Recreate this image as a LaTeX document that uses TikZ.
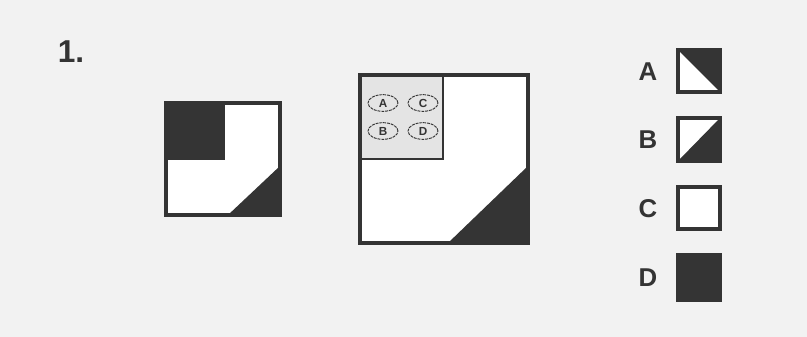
\documentclass[tikz,border=0pt]{standalone}
\usepackage{fontspec}
\setmainfont{Liberation Sans}
\usetikzlibrary{positioning,shapes.geometric}
\definecolor{paper}{RGB}{242,242,242}
\definecolor{ink}{RGB}{52,52,52}
\definecolor{panel}{RGB}{228,228,228}
\tikzset{
  tile/.style={draw=ink,line width=2.9pt,fill=white},
  dark/.style={fill=ink},
  key/.style={font=\fontsize{22}{26}\selectfont\bfseries,text=ink},
  tag/.style={ellipse,draw=ink,line width=0.8pt,dash pattern=on 2.5pt off 0.8pt,minimum width=0.9cm,minimum height=0.5cm,inner sep=0pt,font=\fontsize{10}{11}\selectfont\bfseries,text=ink}
}

\begin{document}
\begin{tikzpicture}[x=0.03cm,y=-0.03cm]
\fill[paper] (0,0) rectangle (807,337);
\useasboundingbox (0,0) rectangle (807,337);
\node[key,font=\fontsize{27}{30}\selectfont\bfseries] (num) at (71,52) {1.};
% small square
\draw[tile] (166,103) rectangle (280,215);
\fill[dark] (166,103) rectangle (225,160);
\fill[dark] (228,215) -- (280,166) -- (280,215) -- cycle;
\draw[tile,fill=none] (166,103) rectangle (280,215);
% big square
\draw[tile] (360,75) rectangle (528,243);
\fill[panel] (360,75) rectangle (443,159);
\draw[draw=ink,line width=1.5pt] (360,159) -- (443,159) -- (443,75);
\fill[dark] (448,243) -- (528,166) -- (528,243) -- cycle;
\draw[tile,fill=none] (360,75) rectangle (528,243);
\node[tag] (tA) at (383,103) {A};
\node[tag] (tC) at (423,103) {C};
\node[tag] (tB) at (383,131) {B};
\node[tag] (tD) at (423,131) {D};
% legend
\node[key] (kA) at (648,72) {A};
\node[key] (kB) at (648,140) {B};
\node[key] (kC) at (648,209) {C};
\node[key] (kD) at (648,278) {D};
\draw[tile] (678,50) rectangle (720,92);
\fill[dark] (678,50) -- (720,50) -- (720,92) -- cycle;
\draw[tile,fill=none] (678,50) rectangle (720,92);
\draw[tile] (678,118) rectangle (720,161);
\fill[dark] (678,161) -- (720,118) -- (720,161) -- cycle;
\draw[tile,fill=none] (678,118) rectangle (720,161);
\draw[tile] (678,187) rectangle (720,229);
\draw[tile,fill=ink] (678,255) rectangle (720,300);
\end{tikzpicture}
\end{document}
